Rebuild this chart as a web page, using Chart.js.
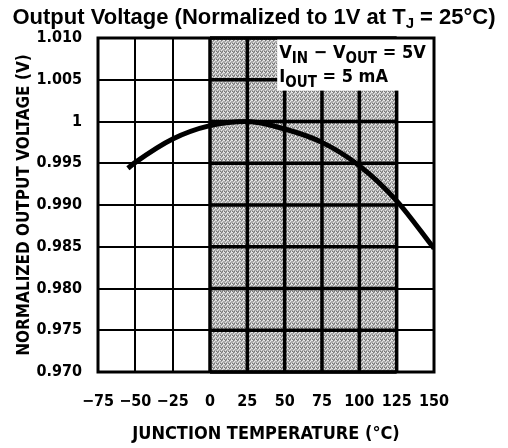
<!DOCTYPE html>
<html>
<head>
<meta charset="utf-8">
<script src="https://cdn.jsdelivr.net/npm/chart.js@4.4.1/dist/chart.umd.min.js"></script>
<style>
  html, body { margin: 0; padding: 0; background: #fff; }
  #wrap { width: 508px; height: 448px; }
</style>
</head>
<body>
<div id="wrap"><canvas id="chart" width="508" height="448"></canvas></div>
<script>
// --- Data ---
const tempC = [-55, -50, -25, 0, 25, 50, 75, 100, 125, 150];
const vNorm = [0.9944, 0.9951, 0.9979, 0.9995, 1.0000, 0.9991, 0.9975, 0.9947, 0.9905, 0.9848];
const xTickLabels = ['\u221275', '\u221250', '\u221225', '0', '25', '50', '75', '100', '125', '150'];
const yTickLabels = ['0.970', '0.975', '0.980', '0.985', '0.990', '0.995', '1', '1.005', '1.010'];
const shadeRange = [0, 125];      // operating temperature band (°C)
const noteCorner = [45, 1.0037];  // top-left corner of the condition box (°C, V)

const FONT = "'Liberation Sans', Arial, sans-serif";
const NARROW = "'DejaVu Sans Condensed', 'DejaVu Sans', sans-serif";

// stipple texture for the shaded band
function makeStipple() {
    const c = document.createElement('canvas');
    c.width = 4; c.height = 4;
    const g = c.getContext('2d');
    g.fillStyle = '#ababab'; g.fillRect(0, 0, 4, 4);
    g.fillStyle = '#e6e6e6';
    [[0,0],[2,1],[1,2],[3,3],[3,0]].forEach(([x,y]) => g.fillRect(x, y, 1, 1));
    g.fillStyle = '#777';
    [[1,0],[0,3],[2,3]].forEach(([x,y]) => g.fillRect(x, y, 1, 1));
    return c;
}

// draws text pieces; pieces = [[text, isSub], ...]
function drawRich(ctx, pieces, x, y, size, subSize) {
    pieces.forEach(([t, sub]) => {
        ctx.font = `bold ${sub ? subSize : size}px ${NARROW}`;
        ctx.fillText(t, x, sub ? y + size * 0.3 : y);
        x += ctx.measureText(t).width;
    });
    return x;
}

const decor = {
    id: 'decor',
    beforeDatasetsDraw(chart) {
        const {ctx, chartArea: a, scales: {x, y}} = chart;
        const x0 = x.getPixelForValue(shadeRange[0]);
        const x1 = x.getPixelForValue(shadeRange[1]);
        ctx.save();
        ctx.fillStyle = ctx.createPattern(makeStipple(), 'repeat');
        ctx.fillRect(x0, a.top, x1 - x0, a.bottom - a.top);
        // heavier grid inside the band
        ctx.strokeStyle = '#000';
        ctx.lineWidth = 3.5;
        ctx.beginPath();
        x.ticks.forEach(t => {
            if (t.value >= shadeRange[0] && t.value <= shadeRange[1]) {
                const px = x.getPixelForValue(t.value);
                ctx.moveTo(px, a.top); ctx.lineTo(px, a.bottom);
            }
        });
        y.ticks.forEach(t => {
            const py = y.getPixelForValue(t.value);
            ctx.moveTo(x0, py); ctx.lineTo(x1, py);
        });
        ctx.stroke();
        ctx.restore();
    },
    afterDatasetsDraw(chart) {
        const {ctx, chartArea: a, scales: {x, y}} = chart;
        const bx = x.getPixelForValue(noteCorner[0]);
        const by = y.getPixelForValue(noteCorner[1]);
        ctx.save();
        ctx.fillStyle = '#fff';
        ctx.fillRect(bx, a.top, a.right - bx, by - a.top);
        ctx.fillStyle = '#000';
        ctx.textBaseline = 'alphabetic';
        drawRich(ctx, [['V', 0], ['IN', 1], [' \u2212 V', 0], ['OUT', 1], [' = 5V', 0]], bx + 2, a.top + 20, 18, 15);
        drawRich(ctx, [['I', 0], ['OUT', 1], [' = 5 mA', 0]], bx + 2, a.top + 44, 18, 15);
        ctx.restore();
    },
    afterDraw(chart) {
        const {ctx, chartArea: a} = chart;
        ctx.save();
        ctx.strokeStyle = '#000';
        ctx.lineWidth = 3;
        ctx.strokeRect(a.left, a.top, a.right - a.left, a.bottom - a.top);
        // title with subscript
        ctx.fillStyle = '#000';
        ctx.textBaseline = 'alphabetic';
        const parts = [['Output Voltage (Normalized to 1V at T', 0], ['J', 1], [' = 25\u00b0C)', 0]];
        let w = 0;
        parts.forEach(([t, sub]) => { ctx.font = `bold ${sub ? 15 : 22}px ${FONT}`; w += ctx.measureText(t).width; });
        let px = (chart.width - w) / 2;
        parts.forEach(([t, sub]) => {
            ctx.font = `bold ${sub ? 15 : 22}px ${FONT}`;
            ctx.fillText(t, px, sub ? 28 : 24);
            px += ctx.measureText(t).width;
        });
        ctx.restore();
    }
};

new Chart(document.getElementById('chart'), {
    type: 'line',
    data: {
        datasets: [{
            data: tempC.map((t, i) => ({x: t, y: vNorm[i]})),
            borderColor: '#000',
            borderWidth: 5,
            pointRadius: 0,
            fill: false,
            cubicInterpolationMode: 'monotone',
            borderCapStyle: 'butt'
        }]
    },
    plugins: [decor],
    options: {
        responsive: false,
        devicePixelRatio: 1,
        animation: false,
        layout: { padding: { top: 38, right: 74, left: 0, bottom: 0 } },
        plugins: { legend: { display: false }, tooltip: { enabled: false }, title: { display: false } },
        scales: {
            x: {
                type: 'linear', min: -75, max: 150,
                ticks: { stepSize: 25, padding: 20, color: '#000', autoSkip: false,
                    maxRotation: 0, minRotation: 0,
                    font: { family: NARROW, size: 16, weight: 'bold' },
                    callback: (v, i) => xTickLabels[i] },
                grid: { color: '#000', lineWidth: 2, drawTicks: false },
                border: { display: false },
                title: { display: true, text: 'JUNCTION TEMPERATURE (\u00b0C)', color: '#000',
                    font: { family: NARROW, size: 18, weight: 'bold' }, padding: { top: 0, bottom: 3 } },
                afterFit: s => { s.height = 76; }
            },
            y: {
                min: 0.970, max: 1.010,
                ticks: { stepSize: 0.005, padding: 16, color: '#000',
                    font: { family: NARROW, size: 16, weight: 'bold' },
                    callback: (v, i) => yTickLabels[i] },
                grid: { color: '#000', lineWidth: 2, drawTicks: false },
                border: { display: false },
                title: { display: true, text: 'NORMALIZED OUTPUT VOLTAGE (V)', color: '#000',
                    font: { family: NARROW, size: 17, weight: 'bold' }, padding: { top: 14, bottom: 0 } },
                afterFit: s => { s.width = 98; }
            }
        }
    }
});
</script>
</body>
</html>
